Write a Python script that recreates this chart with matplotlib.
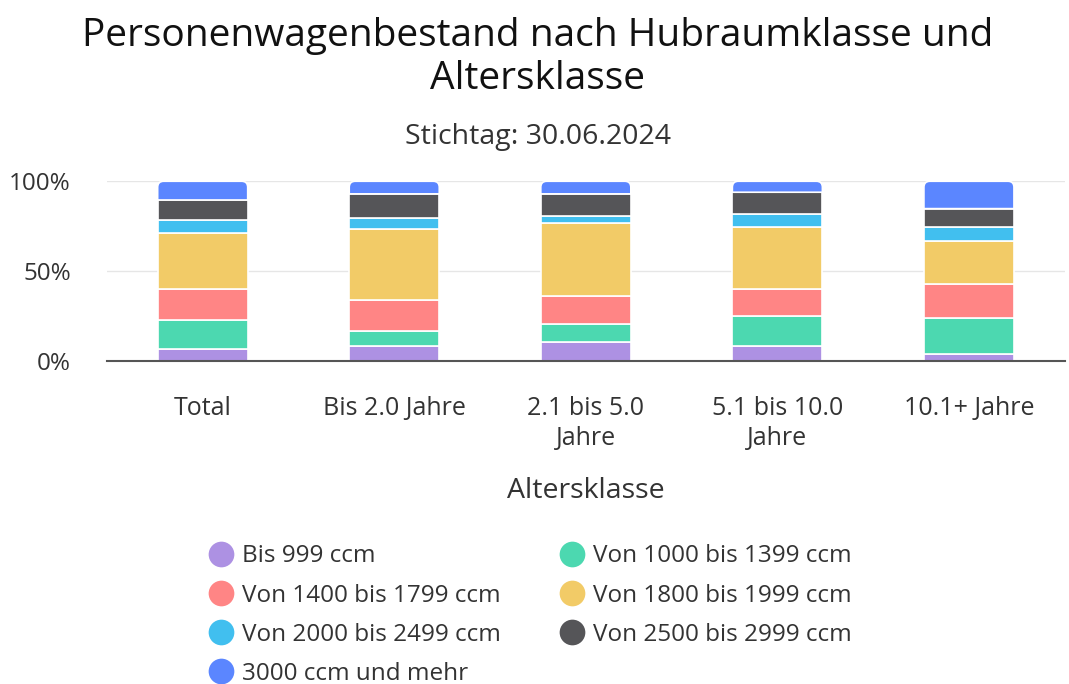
import numpy as np
import matplotlib.pyplot as plt
from matplotlib.path import Path
from matplotlib.patches import PathPatch
from matplotlib.lines import Line2D

plt.rcParams['font.family'] = ['Open Sans', 'DejaVu Sans']

categories = ["Total", "Bis 2.0 Jahre", "2.1 bis 5.0\nJahre", "5.1 bis 10.0\nJahre", "10.1+ Jahre"]
series_names = [
    "Bis 999 ccm",
    "Von 1000 bis 1399 ccm",
    "Von 1400 bis 1799 ccm",
    "Von 1800 bis 1999 ccm",
    "Von 2000 bis 2499 ccm",
    "Von 2500 bis 2999 ccm",
    "3000 ccm und mehr",
]
# shares in percent per age class
bis_999 = [6.7, 8.5, 10.6, 8.5, 3.7]
von_1000 = [16.1, 8.0, 10.3, 16.5, 20.2]
von_1400 = [17.4, 17.6, 15.2, 15.2, 19.2]
von_1800 = [31.3, 39.6, 40.8, 34.4, 23.6]
von_2000 = [6.8, 5.9, 3.8, 7.3, 7.9]
von_2500 = [11.3, 13.4, 12.3, 12.0, 10.2]
ab_3000 = [10.4, 7.0, 7.0, 6.1, 15.2]
series = [bis_999, von_1000, von_1400, von_1800, von_2000, von_2500, ab_3000]
colors = ["#ad91e3", "#4cd8b0", "#ff8585", "#f2cb67", "#41bfef", "#555558", "#5b86ff"]

fig = plt.figure(figsize=(10.69, 6.84), dpi=100)
ax_rect = [0.100, 0.472, 0.896, 0.263]
ax = fig.add_axes(ax_rect)

x = np.arange(len(categories))
width = 0.47
bottom = np.zeros(len(categories))
for i, (vals, col) in enumerate(zip(series, colors)):
    vals = np.array(vals, dtype=float)
    if i < len(series) - 1:
        ax.bar(x, vals, width, bottom=bottom, color=col, edgecolor="white", linewidth=1.2, zorder=3)
    else:
        # top segment with rounded upper corners
        ax_w = ax_rect[2] * 1069
        ax_h = ax_rect[3] * 684
        xr = 6 * len(categories) / ax_w
        yr = 6 * 100 / ax_h
        for xi, b, v in zip(x, bottom, vals):
            x0, x1 = xi - width / 2, xi + width / 2
            y0, y1 = b, b + v
            verts = [
                (x0, y0), (x0, y1 - yr), (x0, y1), (x0 + xr, y1),
                (x1 - xr, y1), (x1, y1), (x1, y1 - yr), (x1, y0), (x0, y0),
            ]
            codes = [Path.MOVETO, Path.LINETO, Path.CURVE3, Path.CURVE3,
                     Path.LINETO, Path.CURVE3, Path.CURVE3, Path.LINETO, Path.CLOSEPOLY]
            ax.add_patch(PathPatch(Path(verts, codes), facecolor=col, edgecolor="white",
                                   linewidth=1.2, zorder=3))
    bottom += vals

ax.set_xlim(-0.5, len(categories) - 0.5)
ax.set_ylim(0, 100)
ax.set_yticks([0, 50, 100])
ax.set_yticklabels(["0%", "50%", "100%"], fontsize=17.5, color="#333333")
ax.set_xticks(x)
ax.set_xticklabels(categories, fontsize=18, color="#333333", linespacing=1.25)
ax.tick_params(axis="both", length=0)
ax.tick_params(axis="y", pad=26)
ax.tick_params(axis="x", pad=25)
ax.grid(axis="y", color="#e6e6e6", linewidth=1, zorder=0)
for s in ["top", "right", "left"]:
    ax.spines[s].set_visible(False)
ax.spines["bottom"].set_color("#555555")
ax.spines["bottom"].set_linewidth(1.5)
ax.spines["bottom"].set_zorder(4)
ax.set_xlabel("Altersklasse", fontsize=20.5, color="#333333", labelpad=19)

fig.text(0.503, 0.916, "Personenwagenbestand nach Hubraumklasse und\nAltersklasse",
         ha="center", va="center", fontsize=28, color="#111111", linespacing=1.2)
fig.text(0.503, 0.80, "Stichtag: 30.06.2024", ha="center", va="center", fontsize=20.5, color="#333333")

order = [0, 2, 4, 6, 1, 3, 5]
handles = [Line2D([0], [0], marker="o", linestyle="", markersize=18.5,
                  markerfacecolor=colors[i], markeredgecolor="none") for i in order]
labels = [series_names[i] for i in order]
fig.legend(handles, labels, loc="upper left", bbox_to_anchor=(0.174, 0.236),
           ncol=2, frameon=False, fontsize=17.5, handletextpad=0.3, columnspacing=2.4,
           labelspacing=0.62, handlelength=1.1, labelcolor="#333333")

fig.savefig("out.png", dpi=100)
